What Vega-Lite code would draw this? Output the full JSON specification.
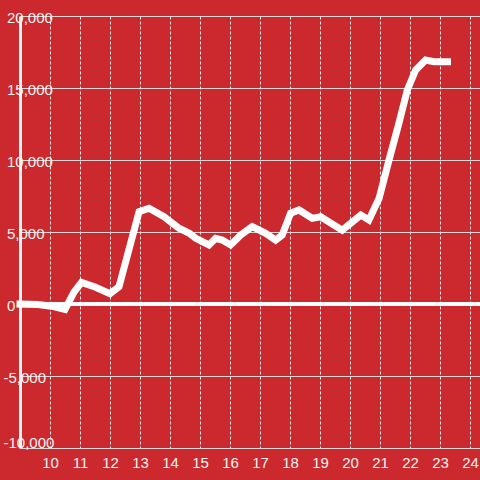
{
  "$schema": "https://vega.github.io/schema/vega-lite/v6.json",
  "width": 460,
  "height": 432,
  "autosize": {"type": "none"},
  "padding": {"left": 20, "top": 16, "right": 0, "bottom": 32},
  "background": "#cc292e",
  "config": {
    "view": {"stroke": null},
    "axis": {"labelFont": "Liberation Sans", "labelFontSize": 15, "labelColor": "#f2f2f2", "ticks": false, "title": null}
  },
  "data": {"values": [
    {"h": 9.0, "v": 0},
    {"h": 9.6, "v": -40},
    {"h": 10.05, "v": -150},
    {"h": 10.5, "v": -380},
    {"h": 10.8, "v": 830},
    {"h": 11.05, "v": 1500},
    {"h": 11.5, "v": 1180},
    {"h": 12.0, "v": 720},
    {"h": 12.3, "v": 1200},
    {"h": 12.97, "v": 6410},
    {"h": 13.3, "v": 6650},
    {"h": 13.8, "v": 6060},
    {"h": 14.3, "v": 5260},
    {"h": 14.63, "v": 4930},
    {"h": 14.86, "v": 4560},
    {"h": 15.3, "v": 4100},
    {"h": 15.52, "v": 4560},
    {"h": 15.74, "v": 4440},
    {"h": 16.02, "v": 4100},
    {"h": 16.36, "v": 4790},
    {"h": 16.74, "v": 5370},
    {"h": 17.19, "v": 4910},
    {"h": 17.52, "v": 4440},
    {"h": 17.74, "v": 4790},
    {"h": 18.02, "v": 6300},
    {"h": 18.3, "v": 6530},
    {"h": 18.74, "v": 5950},
    {"h": 19.02, "v": 6060},
    {"h": 19.74, "v": 5120},
    {"h": 20.36, "v": 6180},
    {"h": 20.63, "v": 5830},
    {"h": 20.97, "v": 7340},
    {"h": 21.3, "v": 10000},
    {"h": 21.63, "v": 12550},
    {"h": 21.91, "v": 14860},
    {"h": 22.19, "v": 16250},
    {"h": 22.52, "v": 16940},
    {"h": 22.8, "v": 16830},
    {"h": 23.25, "v": 16830}
  ]},
  "layer": [
    {
      "data": {"values": [{"z": 0}]},
      "mark": {"type": "rule", "color": "white", "strokeWidth": 4, "strokeCap": "square"},
      "encoding": {
        "y": {"field": "z", "type": "quantitative", "scale": {"domain": [-10000, 20000], "nice": false, "zero": false}}
      }
    },
    {
      "mark": {"type": "line", "color": "white", "strokeWidth": 7, "strokeCap": "square"},
      "encoding": {
        "x": {
          "field": "h", "type": "quantitative",
          "scale": {"domain": [9, 24.333], "nice": false, "zero": false},
          "axis": {
            "values": [10, 11, 12, 13, 14, 15, 16, 17, 18, 19, 20, 21, 22, 23, 24],
            "format": "d",
            "domain": false,
            "grid": true,
            "gridDash": [3, 2],
            "gridColor": "#e4e4e4",
            "gridWidth": 1,
            "labelPadding": 7,
            "labelFlush": false,
            "labelOverlap": false
          }
        },
        "y": {
          "field": "v", "type": "quantitative",
          "scale": {"domain": [-10000, 20000], "nice": false, "zero": false},
          "axis": {
            "values": [-10000, -7500, -5000, -2500, 0, 2500, 5000, 7500, 10000, 12500, 15000, 17500, 20000],
            "labelExpr": "datum.value % 5000 == 0 ? (datum.value < 0 ? '-' + format(-datum.value, ',') : format(datum.value, ',')) : ''",
            "domain": true,
            "domainColor": "#f4f4f4",
            "domainWidth": 3,
            "grid": true,
            "gridColor": "#d6d6d6",
            "gridWidth": 1.2,
            "labelAlign": "left",
            "labelPadding": {"condition": {"test": "datum.value < 0", "value": 17}, "value": 13.5},
            "labelBaseline": "middle",
            "labelOffset": {"condition": {"test": "datum.value == -10000", "value": -6}, "value": 1},
            "labelFlush": false,
            "labelBound": false,
            "labelOverlap": false
          }
        }
      }
    }
  ]
}
